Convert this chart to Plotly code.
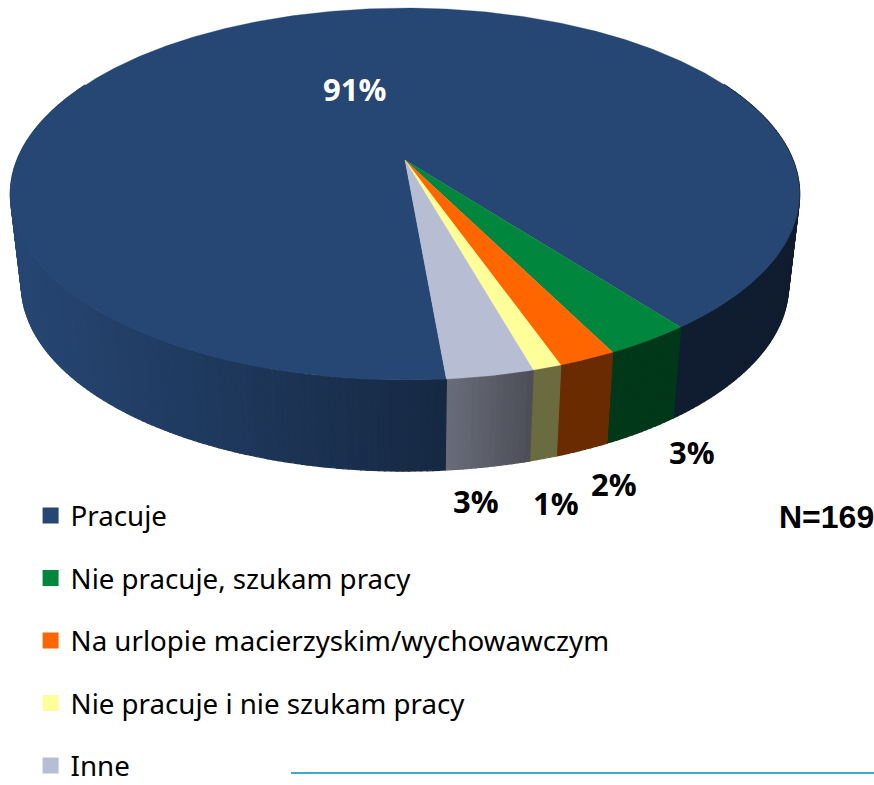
import numpy as np
import plotly.graph_objects as go

categories = ["Pracuje", "Nie pracuje, szukam pracy", "Na urlopie macierzyskim/wychowawczym",
              "Nie pracuje i nie szukam pracy", "Inne"]
values = [91, 3, 2, 1, 3]
colors = ["#264673", "#00863d", "#ff6600", "#ffff99", "#b7bdd2"]
label_pos = [(354, 89), (692, 452), (614, 484), (556, 503), (476, 501)]
label_colors = ["white", "black", "black", "black", "black"]

# perspective projection of the pie disc
CX, CY, A, B, K = 405.0, 160.0, 388.0, 179.8, -0.183
START_DEG = 5.0
WALL_H, WALL_SCALE = 91.0, 0.972


def top(theta):
    X, Y = np.sin(theta), np.cos(theta)
    d = 1 + K * Y
    return CX + A * X / d, CY + B * Y / d


def bottom(theta):
    x, y = top(theta)
    return CX + (x - CX) * WALL_SCALE, y + WALL_H


def shade(x):
    return np.interp(x, [20, 446, 530, 900], [1.0, 0.58, 0.42, 0.41])


def dim(hexc, f):
    r, g, b = int(hexc[1:3], 16), int(hexc[3:5], 16), int(hexc[5:7], 16)
    return f"rgb({r*f:.0f},{g*f:.0f},{b*f:.0f})"


fracs = np.array(values) / sum(values) * 2 * np.pi
ends = np.radians(START_DEG) - np.cumsum(fracs)
starts = ends + fracs

fig = go.Figure()


def poly(xs, ys, color, line=1.2):
    fig.add_trace(go.Scatter(x=xs, y=ys, mode="lines", fill="toself", fillcolor=color,
                             line=dict(color=color, width=line), hoverinfo="skip", showlegend=False))


# side wall: front-most parts are painted last so silhouettes stay clean
walls = []
for s, e, c in zip(starts, ends, colors):
    n = max(2, int(np.degrees(s - e) / 0.75))
    th = np.linspace(s, e, n + 1)
    for t0, t1 in zip(th[:-1], th[1:]):
        if np.cos((t0 + t1) / 2) < -0.45:
            continue
        walls.append((t0, t1, c))
for t0, t1, c in sorted(walls, key=lambda w: np.cos((w[0] + w[1]) / 2)):
    x0, y0 = top(t0); x1, y1 = top(t1)
    bx0, by0 = bottom(t0); bx1, by1 = bottom(t1)
    poly([x0, x1, bx1, bx0, x0], [y0, y1, by1, by0, y0], dim(c, float(shade((x0 + x1) / 2))))

# top faces
for s, e, c in zip(starts, ends, colors):
    th = np.linspace(s, e, max(8, int(np.degrees(s - e) * 2)))
    xs, ys = top(th)
    poly(np.r_[CX, xs, CX], np.r_[CY, ys, CY], c, line=0.3)

# legend entries
for name, c in zip(categories, colors):
    fig.add_trace(go.Scatter(x=[None], y=[None], mode="markers", name=name, legendgroup=name,
                             marker=dict(symbol="square", size=18, color=c)))

# rule at the bottom
fig.add_trace(go.Scatter(x=[291, 874], y=[773, 773], mode="lines",
                         line=dict(color="#3bacc8", width=2), hoverinfo="skip", showlegend=False))

ann = []
for v, (x, y), c in zip(values, label_pos, label_colors):
    ann.append(dict(x=x, y=y, text=f"<b>{v}%</b>", showarrow=False,
                    font=dict(family="Open Sans", size=31, color=c)))
ann.append(dict(x=826, y=517, text="<b>N=169</b>", showarrow=False,
                font=dict(family="Liberation Sans", size=32, color="black")))

fig.update_layout(
    width=874, height=785, autosize=False,
    margin=dict(l=0, r=0, t=0, b=0, autoexpand=False),
    paper_bgcolor="white", plot_bgcolor="white",
    xaxis=dict(range=[0, 874], visible=False, fixedrange=True),
    yaxis=dict(range=[785, 0], visible=False, fixedrange=True),
    annotations=ann,
    showlegend=True,
    legend=dict(x=0.035, y=-0.0077, xanchor="left", yanchor="bottom", bgcolor="rgba(0,0,0,0)",
                font=dict(family="Noto Sans", size=27.7, color="black"),
                traceorder="grouped", tracegroupgap=23.5, itemsizing="trace"),
)
fig.write_html("out.html", config={"displayModeBar": False},
               post_script="document.body.style.margin='0';document.documentElement.style.overflow='hidden';")
